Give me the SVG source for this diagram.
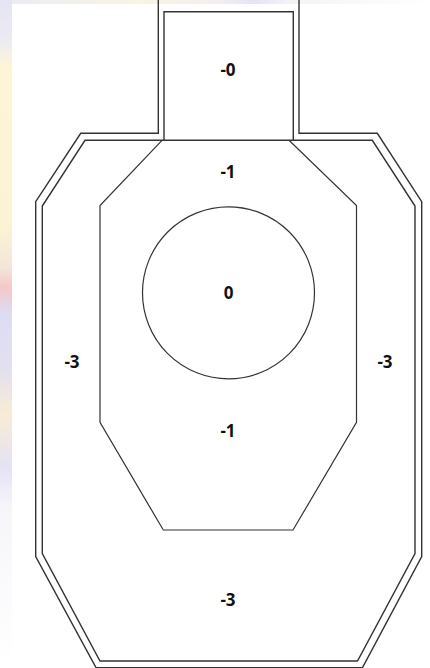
<svg xmlns="http://www.w3.org/2000/svg" width="430" height="668" viewBox="0 0 430 668">
  <defs>
    <linearGradient id="wm" x1="0" y1="0" x2="0" y2="1">
      <stop offset="0" stop-color="#e4e4f4"/>
      <stop offset="0.06" stop-color="#ecebf2"/>
      <stop offset="0.1" stop-color="#fdf5d6"/>
      <stop offset="0.34" stop-color="#fcf3d4"/>
      <stop offset="0.4" stop-color="#f3e6da"/>
      <stop offset="0.43" stop-color="#f4c8c8"/>
      <stop offset="0.47" stop-color="#dcdcf4"/>
      <stop offset="0.55" stop-color="#e2e0f0"/>
      <stop offset="0.62" stop-color="#f8ecd6"/>
      <stop offset="0.7" stop-color="#e4e2f6"/>
      <stop offset="0.76" stop-color="#f6f6fa"/>
      <stop offset="1" stop-color="#ffffff"/>
    </linearGradient>
    <linearGradient id="wmTop" x1="0" y1="0" x2="1" y2="0">
      <stop offset="0" stop-color="#ecebf4"/>
      <stop offset="0.3" stop-color="#f8f4e2"/>
      <stop offset="0.5" stop-color="#f2eef0"/>
      <stop offset="0.58" stop-color="#e4e4f6"/>
      <stop offset="0.66" stop-color="#f4f2f6"/>
      <stop offset="1" stop-color="#ffffff"/>
    </linearGradient>
  </defs>
  <style>
    .ln { fill: none; stroke: #333333; stroke-width: 1.4; stroke-linejoin: miter; }
    .thin { fill: none; stroke: #333333; stroke-width: 1.2; }
    .lbl { font-family: "Open Sans", "Liberation Sans", sans-serif; font-weight: bold; font-size: 17px; fill: #111111; text-anchor: middle; }
  </style>
  <rect x="0" y="0" width="430" height="668" fill="#ffffff"/>
  <rect x="0" y="0" width="12" height="668" fill="url(#wm)"/>
  <rect x="12" y="0" width="418" height="4" fill="url(#wmTop)"/>

  <g id="outer-border">
    <path class="ln" d="M158.3,-5 L158.3,133.3 L80.7,133.3 L35.7,201.7 L35.7,556.5 L96,667.6 L362.5,667.6 L421.7,556.5 L421.7,201.7 L377.3,133.3 L299,133.3 L299,-5"/>
  </g>
  <g id="zone-3">
    <path class="ln" d="M164,11.7 L293.3,11.7 L293.3,140.3 L372.3,140.3 L415,206 L415,553.5 L357.5,661 L100,661 L42.3,553.5 L42.3,206 L85,140.3 L164,140.3 Z"/>
    <text class="lbl" x="72" y="368">-3</text>
    <text class="lbl" x="385" y="368">-3</text>
    <text class="lbl" x="228" y="606">-3</text>
  </g>
  <g id="head">
    <line class="ln" x1="164" y1="140.3" x2="293.3" y2="140.3"/>
    <text class="lbl" x="228" y="76">-0</text>
  </g>
  <g id="zone-1">
    <path class="thin" d="M162,140.3 L100,205.5 L100,422.3 L163.3,530 L293,530 L356.5,422.3 L356.5,205.5 L289,140.3"/>
    <text class="lbl" x="228" y="178">-1</text>
    <text class="lbl" x="228" y="437">-1</text>
  </g>
  <g id="zone-0">
    <circle class="thin" cx="228.5" cy="292.8" r="86"/>
    <text class="lbl" x="228.5" y="299">0</text>
  </g>
</svg>
